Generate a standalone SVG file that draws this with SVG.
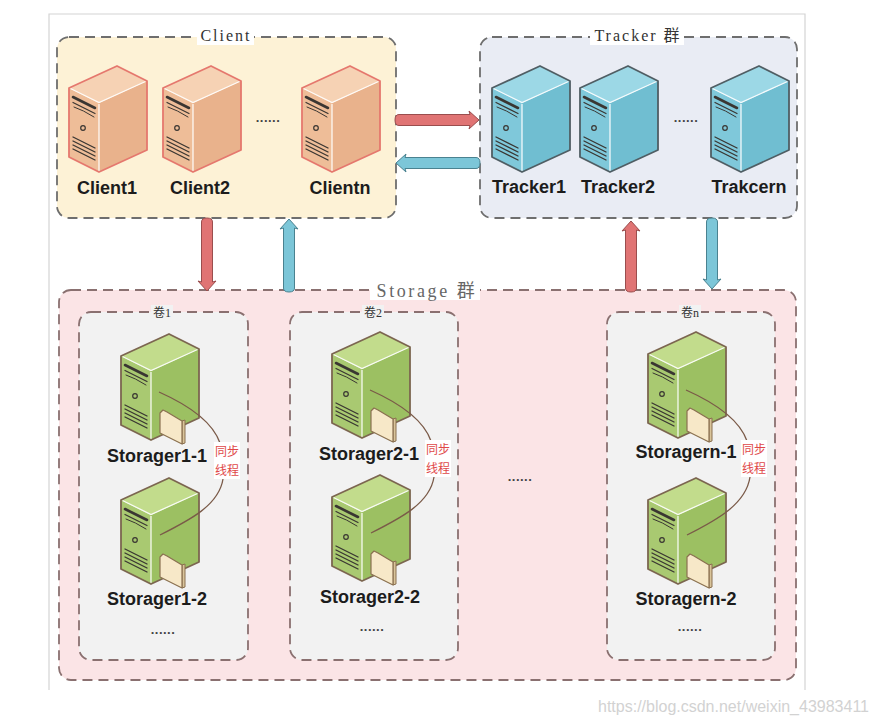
<svg xmlns="http://www.w3.org/2000/svg" xmlns:xlink="http://www.w3.org/1999/xlink" width="876" height="723" viewBox="0 0 876 723">
<style>
.grp{stroke-width:1.8;stroke-dasharray:10 6;}
.g1{fill:#fdf2d6;stroke:#6e6e6e;}
.g2{fill:#e9ecf4;stroke:#6e6e6e;}
.g3{fill:#fbe4e6;stroke:#8a7070;}
.vol{fill:#f2f2f2;stroke:#8a7070;stroke-width:1.8;stroke-dasharray:10 6;}
.glab{font-family:"Liberation Serif","Noto Sans CJK SC",serif;fill:#333;text-anchor:middle;}
.vlab{font-family:"Liberation Serif","Noto Sans CJK SC",serif;font-size:12px;fill:#333;text-anchor:middle;}
.nlab{font-family:"Liberation Sans",Arial,sans-serif;font-weight:bold;font-size:18px;fill:#1c1c1c;text-anchor:middle;}
.dots{font-family:"Liberation Sans",Arial,sans-serif;font-weight:bold;font-size:13px;fill:#444;text-anchor:middle;letter-spacing:0.5px;}
.sync{font-family:"Noto Sans CJK SC",sans-serif;font-size:12px;fill:#e04848;text-anchor:middle;}
.curve{fill:none;stroke:#7a5a48;stroke-width:1.3;}
.ar-r{fill:#e07474;stroke:#9a4e4e;stroke-width:1;}
.ar-b{fill:#7cc6d8;stroke:#4a8290;stroke-width:1;}
.det{fill:none;stroke:#3a3632;stroke-linecap:round;}
</style>
<defs>
<g id="det">
  <path class="det" d="M4,31 L26,42" stroke-width="2.6"/>
  <path class="det" d="M4,36.5 L26,47.5" stroke-width="1.2"/>
  <path class="det" d="M5,41 Q14,44 25,51" stroke-width="1"/>
  <circle class="det" cx="14" cy="62" r="2.3" stroke-width="1.2"/>
  <path class="det" d="M4,71 L26,82 M4,75 L26,86 M4,79 L26,90 M4,83 L26,94" stroke-width="1.3"/>
</g>
<g id="srv-o">
  <path d="M0,22 L48,0 L78,15 L30,37 Z" fill="#f6d2b4"/>
  <path d="M0,22 L30,37 L30,106 L0,91 Z" fill="#eebd98"/>
  <path d="M30,37 L78,15 L78,84 L30,106 Z" fill="#e9b28c"/>
  <path d="M1.5,22.5 L30,36.5 L76.5,15.5 M30,38 L30,105" stroke="#fff" stroke-width="1.3" fill="none" opacity="0.9"/>
  <use xlink:href="#det"/>
  <path d="M0,22 L48,0 L78,15 L78,84 L30,106 L0,91 Z" fill="none" stroke="#e5786e" stroke-width="1.8" stroke-linejoin="round"/>
</g>
<g id="srv-b">
  <path d="M0,22 L48,0 L78,15 L30,37 Z" fill="#9cd8e6"/>
  <path d="M0,22 L30,37 L30,106 L0,91 Z" fill="#7fc8da"/>
  <path d="M30,37 L78,15 L78,84 L30,106 Z" fill="#70bed1"/>
  <path d="M1.5,22.5 L30,36.5 L76.5,15.5 M30,38 L30,105" stroke="#fff" stroke-width="1.3" fill="none" opacity="0.9"/>
  <use xlink:href="#det"/>
  <path d="M0,22 L48,0 L78,15 L78,84 L30,106 L0,91 Z" fill="none" stroke="#505e64" stroke-width="1.8" stroke-linejoin="round"/>
</g>
<g id="srv-g">
  <path d="M0,22 L48,0 L78,15 L30,37 Z" fill="#c2dc8c"/>
  <path d="M0,22 L30,37 L30,106 L0,91 Z" fill="#a9c971"/>
  <path d="M30,37 L78,15 L78,84 L30,106 Z" fill="#9cc062"/>
  <path d="M1.5,22.5 L30,36.5 L76.5,15.5 M30,38 L30,105" stroke="#fff" stroke-width="1.3" fill="none" opacity="0.9"/>
  <use xlink:href="#det"/>
  <path d="M0,22 L48,0 L78,15 L78,84 L30,106 L0,91 Z" fill="none" stroke="#7c6650" stroke-width="1.8" stroke-linejoin="round"/>
  <path d="M61,87 L64,86 L64,109 L61,110 Z" fill="#d9c49a" stroke="#8a7050" stroke-width="1" stroke-linejoin="round"/>
  <path d="M39,99 L39,79 L42,76 L46,78 L61,87 L61,110 Z" fill="#f7e8c8" stroke="#8a7050" stroke-width="1.2" stroke-linejoin="round"/>
</g>
</defs>

<rect width="876" height="723" fill="#ffffff"/>
<path d="M49,690 L49,14 L805,14 L805,690" fill="none" stroke="#d4d4d4" stroke-width="1.2"/>

<g id="client-group">
  <rect class="grp g1" x="57" y="37" width="339" height="181" rx="12"/>
  <rect x="197" y="27" width="57" height="18" fill="#fff"/>
  <text class="glab" x="226" y="41" font-size="16" letter-spacing="2">Client</text>
</g>
<g id="tracker-group">
  <rect class="grp g2" x="480" y="37" width="317" height="181" rx="12"/>
  <rect x="590" y="27" width="94" height="18" fill="#fff"/>
  <text class="glab" x="638" y="41" font-size="16" letter-spacing="2">Tracker 群</text>
</g>
<g id="storage-group">
  <rect class="grp g3" x="59" y="290" width="737" height="390" rx="12"/>
  <rect x="370" y="279" width="110" height="21" fill="#fff"/>
  <text class="glab" x="427" y="297" font-size="18" letter-spacing="2.6" style="fill:#666">Storage 群</text>
</g>

<g id="vol1">
  <rect class="vol" x="79" y="312" width="169" height="348" rx="12"/>
  <rect x="151" y="305" width="22" height="14" fill="#f2f2f2"/>
  <text class="vlab" x="162" y="317">卷1</text>
</g>
<g id="vol2">
  <rect class="vol" x="290" y="312" width="168" height="348" rx="12"/>
  <rect x="362" y="305" width="22" height="14" fill="#f2f2f2"/>
  <text class="vlab" x="373" y="317">卷2</text>
</g>
<g id="voln">
  <rect class="vol" x="607" y="312" width="168" height="348" rx="12"/>
  <rect x="679" y="305" width="22" height="14" fill="#f2f2f2"/>
  <text class="vlab" x="690" y="317">卷n</text>
</g>

<g id="client1"><use xlink:href="#srv-o" x="69" y="66"/><text class="nlab" x="107" y="194">Client1</text></g>
<g id="client2"><use xlink:href="#srv-o" x="163" y="66"/><text class="nlab" x="200" y="194">Client2</text></g>
<text class="dots" x="268" y="122">......</text>
<g id="clientn"><use xlink:href="#srv-o" x="302" y="66"/><text class="nlab" x="340" y="194">Clientn</text></g>

<g id="tracker1"><use xlink:href="#srv-b" x="492" y="66"/><text class="nlab" x="529" y="193">Tracker1</text></g>
<g id="tracker2"><use xlink:href="#srv-b" x="580" y="66"/><text class="nlab" x="618" y="193">Tracker2</text></g>
<text class="dots" x="686" y="122">......</text>
<g id="trackern"><use xlink:href="#srv-b" x="711" y="66"/><text class="nlab" x="749" y="193">Trakcern</text></g>

<g id="storager1-1"><use xlink:href="#srv-g" x="121" y="334"/><text class="nlab" x="157" y="462">Storager1-1</text></g>
<g id="storager1-2"><use xlink:href="#srv-g" x="121" y="478"/><text class="nlab" x="157" y="605">Storager1-2</text></g>
<text class="dots" x="163" y="634">......</text>
<g id="storager2-1"><use xlink:href="#srv-g" x="332" y="332"/><text class="nlab" x="369" y="460">Storager2-1</text></g>
<g id="storager2-2"><use xlink:href="#srv-g" x="332" y="475"/><text class="nlab" x="370" y="603">Storager2-2</text></g>
<text class="dots" x="372" y="631">......</text>
<g id="storagern-1"><use xlink:href="#srv-g" x="648" y="332"/><text class="nlab" x="686" y="458">Storagern-1</text></g>
<g id="storagern-2"><use xlink:href="#srv-g" x="648" y="478"/><text class="nlab" x="686" y="605">Storagern-2</text></g>
<text class="dots" x="690" y="631">......</text>
<text class="dots" x="520" y="481">......</text>

<g id="sync-1">
  <path class="curve" d="M159,392 C186,404 212,420 220,443 M223,479 C219,505 190,520 160,535"/>
  <rect x="214" y="442" width="26" height="37" fill="#fff"/>
  <text class="sync" x="227" y="456">同步</text>
  <text class="sync" x="227" y="475">线程</text>
</g>
<g id="sync-2">
  <path class="curve" d="M370,390 C397,402 423,418 431,441 M434,477 C430,503 401,518 371,533"/>
  <rect x="425" y="440" width="26" height="37" fill="#fff"/>
  <text class="sync" x="438" y="454">同步</text>
  <text class="sync" x="438" y="473">线程</text>
</g>
<g id="sync-n">
  <path class="curve" d="M686,390 C713,402 739,418 747,441 M750,477 C746,504 717,520 687,535"/>
  <rect x="741" y="440" width="26" height="37" fill="#fff"/>
  <text class="sync" x="754" y="454">同步</text>
  <text class="sync" x="754" y="473">线程</text>
</g>

<g id="connectors">
  <path class="ar-r" d="M399,114.5 L470,114.5 L469,111 L479,120 L469,129 L470,125.5 L399,125.5 Q395,125.5 395,120 Q395,114.5 399,114.5 Z"/>
  <path class="ar-b" d="M476,157.5 L405,157.5 L406,154 L396,163 L406,172 L405,168.5 L476,168.5 Q480,168.5 480,163 Q480,157.5 476,157.5 Z"/>
  <path class="ar-r" d="M201.5,222 L201.5,282 L198,281 L207,291 L216,281 L212.5,282 L212.5,222 Q212.5,218 207,218 Q201.5,218 201.5,222 Z"/>
  <path class="ar-b" d="M283.5,288 L283.5,228 L280,229 L289,219 L298,229 L294.5,228 L294.5,288 Q294.5,292 289,292 Q283.5,292 283.5,288 Z"/>
  <path class="ar-r" d="M625.5,288 L625.5,230 L622,231 L631,221 L640,231 L636.5,230 L636.5,288 Q636.5,292 631,292 Q625.5,292 625.5,288 Z"/>
  <path class="ar-b" d="M706.5,222 L706.5,280 L703,279 L712,289 L721,279 L717.5,280 L717.5,222 Q717.5,218 712,218 Q706.5,218 706.5,222 Z"/>
</g>

<text x="598" y="712" font-family="Liberation Sans, Arial, sans-serif" font-size="16" fill="#d2d2d2">https://blog.csdn.net/weixin_43983411</text>
</svg>
